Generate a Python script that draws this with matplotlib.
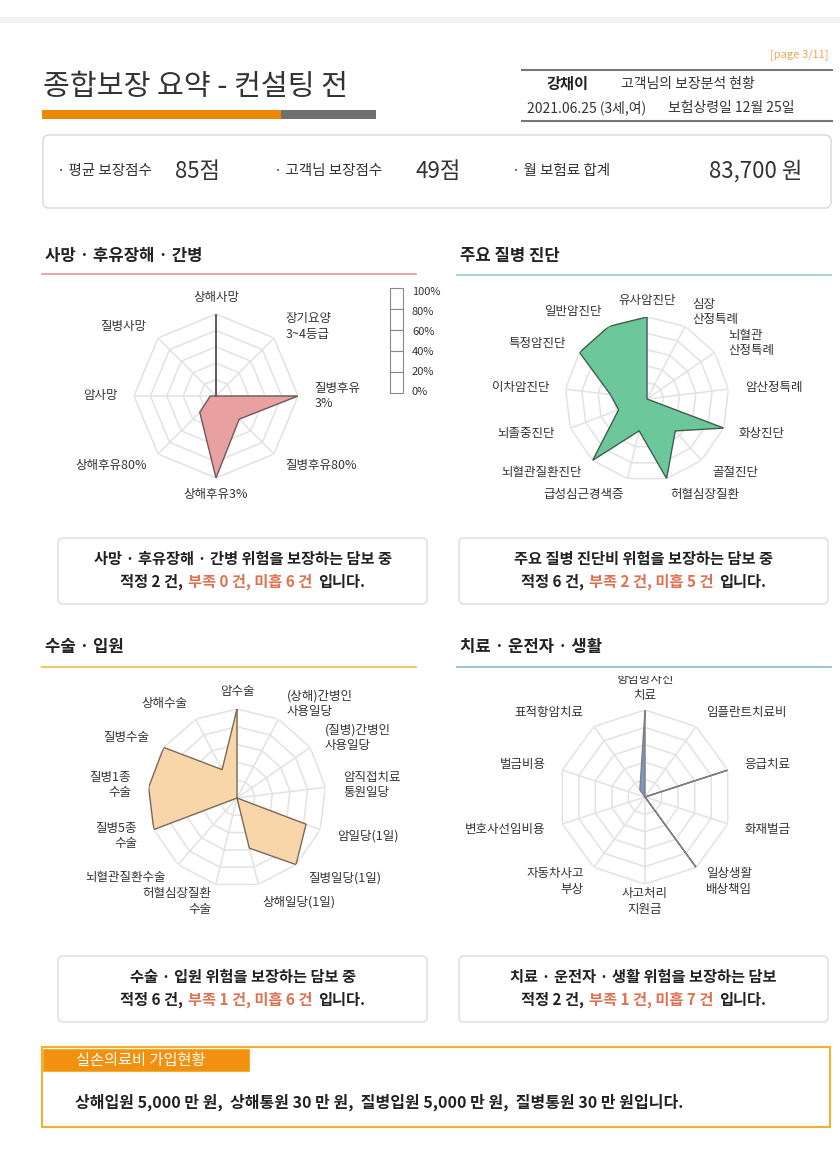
import numpy as np
import matplotlib
matplotlib.use('Agg')
import matplotlib.pyplot as plt
from matplotlib.patches import Rectangle, FancyBboxPatch
from matplotlib.offsetbox import TextArea, HPacker, AnnotationBbox
from matplotlib.transforms import Bbox

plt.rcParams['font.family'] = ['Noto Sans CJK KR', 'DejaVu Sans']

# DATA
death_labels = ['상해사망', '장기요양\n3~4등급', '질병후유\n3%', '질병후유80%',
                '상해후유3%', '상해후유80%', '암사망', '질병사망']
death_values = [100, 0, 100, 40, 100, 28, 7, 0]

diag_labels = ['유사암진단', '심장\n산정특례', '뇌혈관\n산정특례', '암산정특례', '화상진단',
               '골절진단', '허혈심장질환', '급성심근경색증', '뇌혈관질환진단', '뇌졸중진단',
               '이차암진단', '특정암진단', '일반암진단']
diag_values = [100, 0, 0, 0, 100, 52, 100, 40, 100, 37, 45, 100, 100]

surg_labels = ['암수술', '(상해)간병인\n사용일당', '(질병)간병인\n사용일당', '암직접치료\n통원일당',
               '암일당(1일)', '질병일당(1일)', '상해일당(1일)', '허혈심장질환\n수술',
               '뇌혈관질환수술', '질병5종\n수술', '질병1종\n수술', '질병수술', '상해수술']
surg_values = [100, 0, 0, 0, 83, 100, 58, 0, 0, 100, 100, 100, 36]

care_labels = ['항암방사선\n치료', '임플란트치료비', '응급치료', '화재벌금', '일상생활\n배상책임',
               '사고처리\n지원금', '자동차사고\n부상', '변호사선임비용', '벌금비용', '표적항암치료']
care_values = [100, 0, 100, 0, 100, 0, 0, 0, 0, 10]

scale_labels = ['100%', '80%', '60%', '40%', '20%', '0%']

summary_items = [('· 평균 보장점수', '85점'), ('· 고객님 보장점수', '49점'), ('· 월 보험료 합계', '83,700 원')]

box_texts = [
    ('사망 · 후유장해 · 간병 위험을 보장하는 담보 중', '적정 2 건,', '부족 0 건, 미흡 6 건', '입니다.'),
    ('주요 질병 진단비 위험을 보장하는 담보 중', '적정 6 건,', '부족 2 건, 미흡 5 건', '입니다.'),
    ('수술 · 입원 위험을 보장하는 담보 중', '적정 6 건,', '부족 1 건, 미흡 6 건', '입니다.'),
    ('치료 · 운전자 · 생활 위험을 보장하는 담보', '적정 2 건,', '부족 1 건, 미흡 7 건', '입니다.'),
]

W, H = 840, 1150
fig = plt.figure(figsize=(W / 100, H / 100), dpi=100)
cv = fig.add_axes([0, 0, 1, 1])
cv.set_xlim(0, W)
cv.set_ylim(H, 0)
cv.axis('off')

DARK = '#333333'
RED = '#e07050'

# header
cv.add_patch(Rectangle((0, 17), W, 6, color='#f2f2f2', lw=0))
cv.text(828, 55, '[page 3/11]', ha='right', va='center', fontsize=8, color='#f0a850')
cv.text(43, 87, '종합보장 요약 - 컨설팅 전', fontsize=21, color=DARK, va='center')
cv.add_patch(Rectangle((42, 110), 239, 9, color='#ee8800', lw=0))
cv.add_patch(Rectangle((281, 110), 95, 9, color='#707070', lw=0))
cv.plot([522, 832], [70, 70], color='#777777', lw=1.5)
cv.plot([522, 832], [121, 121], color='#777777', lw=1.5)
cv.text(546, 84, '강채이', fontsize=11, weight='bold', color='#222222', va='center')
cv.text(621, 84, '고객님의 보장분석 현황', fontsize=10, color=DARK, va='center')
cv.text(527, 108, '2021.06.25 (3세,여)', fontsize=10, color=DARK, va='center')
cv.text(668, 108, '보험상령일 12월 25일', fontsize=10, color=DARK, va='center')

# summary box
cv.add_patch(FancyBboxPatch((43, 135), 788, 73, boxstyle='round,pad=0,rounding_size=6',
                            fc='white', ec='#dddddd', lw=1.2))
label_x = [57, 274, 512]
value_x = [175, 415, 802]
for (lab, val), lx, vx, in zip(summary_items, label_x, value_x):
    cv.text(lx, 171, lab, fontsize=10.5, color=DARK, va='center')
    ha = 'right' if val.endswith('원') else 'left'
    cv.text(vx, 171, val, fontsize=16, color=DARK, va='center', ha=ha)

# section titles
sections = [(45, 256, '사망 · 후유장해 · 간병', '#e8a0a0', 274),
            (460, 256, '주요 질병 진단', '#9fd3c0', 275),
            (45, 647, '수술 · 입원', '#f2c04a', 667),
            (460, 647, '치료 · 운전자 · 생활', '#93bcd8', 667)]
for sx, sy, txt, col, ly in sections:
    cv.text(sx, sy, txt, fontsize=12, weight='bold', color='#222222', va='center')
    cv.plot([sx - 3, sx + 371], [ly, ly], color=col, lw=1.3)


def radar(cx, cy, r, labels, values, fill, edge, label_r=1.2, fs=9):
    ax = fig.add_axes([(cx - r) / W, (H - cy - r) / H, 2 * r / W, 2 * r / H], polar=True)
    ax.set_theta_zero_location('N')
    ax.set_theta_direction(-1)
    ax.set_ylim(0, 100)
    ax.axis('off')
    n = len(labels)
    ang = np.linspace(0, 2 * np.pi, n, endpoint=False)
    closed = np.append(ang, ang[0])
    for lev in [20, 40, 60, 80, 100]:
        ax.plot(closed, [lev] * (n + 1), color='#e2e2e2', lw=1.1, zorder=1)
    for a in ang:
        ax.plot([a, a], [0, 100], color='#e2e2e2', lw=1.1, zorder=1)
    vals = np.append(values, values[0])
    ax.fill(closed, vals, color=fill, zorder=2, lw=0)
    ax.plot(closed, vals, color=edge, lw=1.0, zorder=3)
    texts = []
    for a, lab in zip(ang, labels):
        s = np.sin(a)
        if s > 0.15:
            ha = 'left'
        elif s < -0.15:
            ha = 'right'
        else:
            ha = 'center'
        t = ax.text(a, 100 * label_r, lab, ha=ha, va='center', ma=ha, fontsize=fs,
                    color='#333333', linespacing=1.25, clip_on=False)
        texts.append(t)
    return ax, texts


radar(216, 396, 82, death_labels, death_values, '#e9a0a0', '#6a5a5a')
radar(647, 399, 82, diag_labels, diag_values, '#6cc79a', '#3f5f50')
radar(237, 798, 89, surg_labels, surg_values, '#f9d6aa', '#7a6a58')
ax4, t4 = radar(645, 797, 87, care_labels, care_values, '#7b96c8', '#808080')
# top label partly hidden under the section line
t4[0].set_position((0, 100 * 1.26))
t4[0].set_clip_on(True)
t4[0].set_clip_box(Bbox.from_extents(0, 0, W, H - 676))

# percent scale next to first radar
bx, by, bw, bh = 390, 288, 13, 105
for i in range(5):
    cv.add_patch(Rectangle((bx, by + i * bh / 5), bw, bh / 5, fc='white', ec='#888888', lw=0.8))
for i, lab in enumerate(scale_labels):
    cv.text(412, 292 + i * 20, lab, fontsize=8, color=DARK, va='center')

# comment boxes
box_pos = [(58, 538), (459, 538), (58, 956), (459, 956)]
for (bx0, by0), (l1, a, b, c) in zip(box_pos, box_texts):
    cv.add_patch(FancyBboxPatch((bx0, by0), 369, 66, boxstyle='round,pad=0,rounding_size=5',
                                fc='white', ec='#dcdcdc', lw=1.0))
    xc = bx0 + 369 / 2
    cv.text(xc, by0 + 21, l1, ha='center', va='center', fontsize=11, weight='bold', color='#222222')
    parts = [TextArea(a, textprops=dict(fontsize=11, weight='bold', color='#222222')),
             TextArea(b, textprops=dict(fontsize=11, weight='bold', color=RED)),
             TextArea(c, textprops=dict(fontsize=11, weight='bold', color='#222222'))]
    pack = HPacker(children=parts, sep=4, pad=0, align='baseline')
    cv.add_artist(AnnotationBbox(pack, (xc, by0 + 44), xycoords='data', frameon=False,
                                 box_alignment=(0.5, 0.5), pad=0))

# bottom box
cv.add_patch(Rectangle((42, 1047), 788, 80, fc='white', ec='#f0b030', lw=1.5))
cv.add_patch(Rectangle((43, 1049), 206, 22, fc='#f29010', ec='#f0b030', lw=0.8))
cv.text(76, 1060, '실손의료비 가입현황', fontsize=11, color='white', va='center')
cv.text(75, 1102, '상해입원 5,000 만 원,  상해통원 30 만 원,  질병입원 5,000 만 원,  질병통원 30 만 원입니다.',
        fontsize=11.5, weight='bold', color='#222222', va='center')

fig.savefig('out.png', dpi=100)
